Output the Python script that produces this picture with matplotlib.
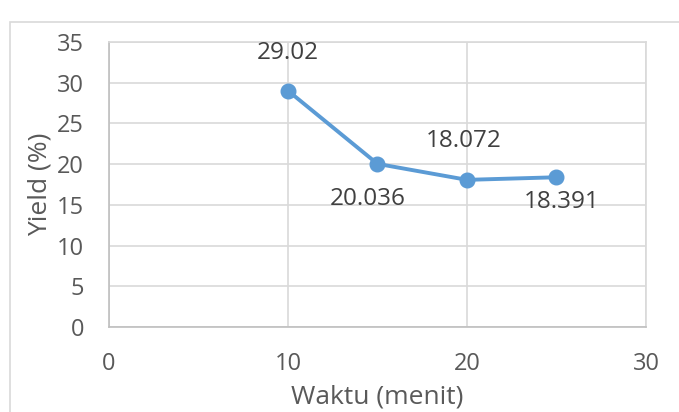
import matplotlib
matplotlib.use('Agg')
import matplotlib.pyplot as plt
from matplotlib.patches import Rectangle

# Data
waktu = [10, 15, 20, 25]
yield_pct = [29.02, 20.036, 18.072, 18.391]
labels = ['29.02', '20.036', '18.072', '18.391']
# label offsets in points (dx, dy)
offsets = [(0, 27), (-7, -25), (-2, 28), (4, -18)]

plt.rcParams['font.family'] = ['Open Sans', 'DejaVu Sans']
grey_text = '#595959'
grid_col = '#d9d9d9'
blue = '#5b9bd5'

fig = plt.figure(figsize=(6.79, 4.12), dpi=100)
ax = fig.add_axes([0.1605, 0.2063, 0.7909, 0.6917])

ax.plot(waktu, yield_pct, color=blue, lw=2.8, marker='o', markersize=10.5,
        markerfacecolor=blue, markeredgecolor=blue, zorder=3, clip_on=False)

for x, y, lab, off in zip(waktu, yield_pct, labels, offsets):
    ax.annotate(lab, (x, y), xytext=off, textcoords='offset points',
                ha='center', va='center', fontsize=17.5, color='#404040')

ax.set_xlim(0, 30)
ax.set_ylim(0, 35)
ax.set_xticks(range(0, 31, 10))
ax.set_yticks(range(0, 36, 5))
ax.grid(True, color=grid_col, lw=1.2)
ax.set_axisbelow(True)
for s in ax.spines.values():
    s.set_color(grid_col)
    s.set_linewidth(1.2)
ax.spines['left'].set_color('#bfbfbf')
ax.spines['bottom'].set_color('#bfbfbf')
ax.tick_params(length=0, colors=grey_text, labelsize=17)
ax.tick_params(axis='y', pad=18)
ax.tick_params(axis='x', pad=18)

ax.set_xlabel('Waktu (menit)', fontsize=19, color=grey_text, labelpad=6)
ax.set_ylabel('Yield (%)', fontsize=19, color=grey_text, labelpad=3)

# chart-area border (partly cropped in the original)
fig.patches.append(Rectangle((10 / 679, -0.1), 1.2, 1.073 - 11 / 412,
                             transform=fig.transFigure, fill=False,
                             edgecolor=grid_col, lw=1.2))

fig.savefig('out.png', dpi=100)
